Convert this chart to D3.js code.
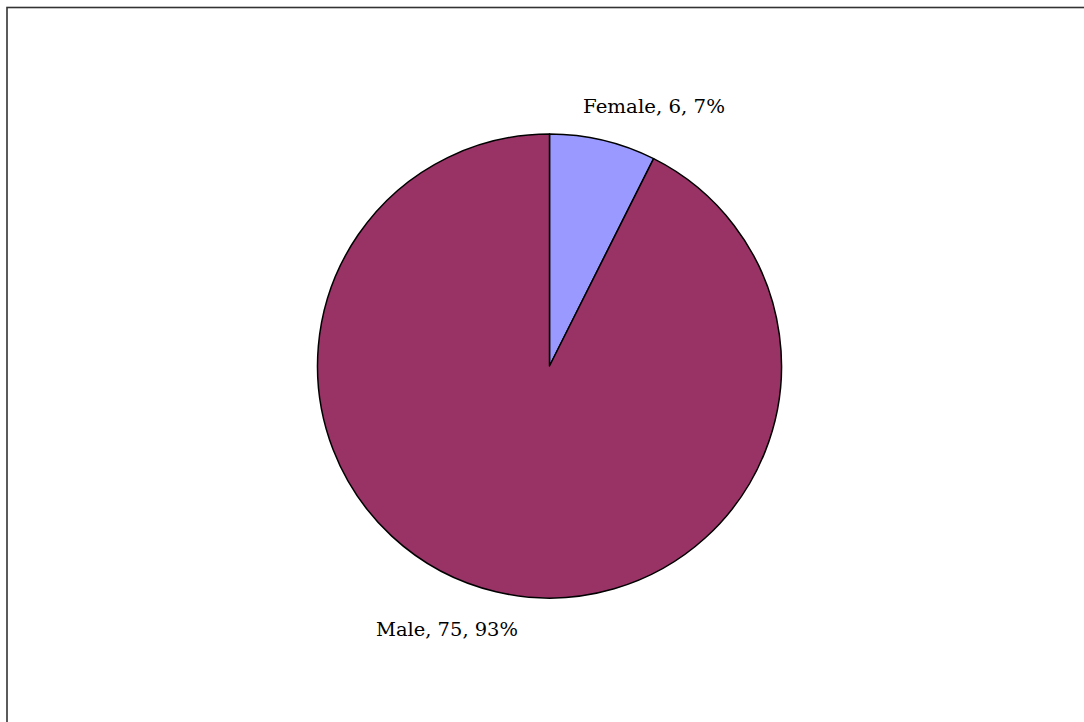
<!DOCTYPE html>
<html><head><meta charset="utf-8">
<script src="https://cdn.jsdelivr.net/npm/d3@7"></script>
<style>html,body{margin:0;padding:0;background:#fff;}svg{display:block;}</style>
</head><body>
<script>
const categories = ["Female", "Male"];
const values = [6, 75];
const percents = ["7%", "93%"];
const colors = ["#9999FF", "#993366"];

const W = 1084, H = 722;
const svg = d3.select("body").append("svg").attr("width", W).attr("height", H);

svg.append("rect").attr("x", 7).attr("y", 7.5).attr("width", W + 20).attr("height", H + 20)
  .attr("fill", "none").attr("stroke", "#333").attr("stroke-width", 1.6);

const cx = 549.5, cy = 366, r = 232;
const data = categories.map((c, i) => ({cat: c, value: values[i], pct: percents[i], color: colors[i]}));
const pie = d3.pie().value(d => d.value).sort(null);
const arc = d3.arc().innerRadius(0).outerRadius(r);
const g = svg.append("g").attr("transform", `translate(${cx},${cy})`);
const arcs = pie(data);
g.selectAll("path").data(arcs).join("path")
  .attr("d", arc).attr("fill", d => d.data.color)
  .attr("stroke", "#000").attr("stroke-width", 1.5).attr("stroke-linejoin", "round");

const labelPos = [{x: 583, y: 113, w: 142}, {x: 376, y: 636, w: 142}];
svg.selectAll("text.lbl").data(arcs).join("text").attr("class", "lbl")
  .attr("x", (d, i) => labelPos[i].x).attr("y", (d, i) => labelPos[i].y)
  .attr("font-family", "'DejaVu Serif', 'Liberation Serif', serif").attr("font-size", 18.5)
  .attr("fill", "#000")
  .text(d => `${d.data.cat}, ${d.data.value}, ${d.data.pct}`)
  .each(function(d, i) {
    const len = this.getComputedTextLength();
    if (Math.abs(len - labelPos[i].w) > 3) {
      d3.select(this).attr("textLength", labelPos[i].w).attr("lengthAdjust", "spacingAndGlyphs");
    }
  });
</script>
</body></html>
